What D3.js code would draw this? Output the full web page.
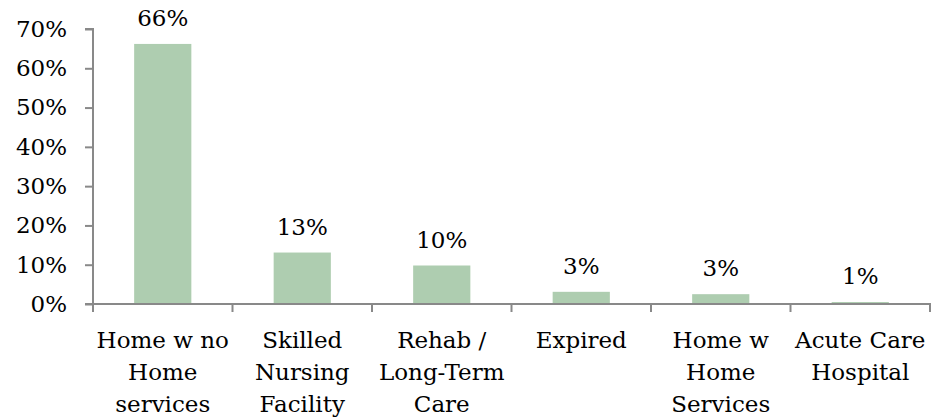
<!DOCTYPE html>
<html>
<head>
<meta charset="utf-8">
<script src="https://cdn.jsdelivr.net/npm/d3@7"></script>
<style>
  body { margin: 0; background: #fff; }
  svg { display: block; font-family: "DejaVu Serif", serif; }
</style>
</head>
<body>
<svg width="935" height="418"></svg>
<script>
// discharge destinations (share of patients)
let categories = ['Home w no Home services', 'Skilled Nursing Facility', 'Rehab / Long-Term Care',
  'Expired', 'Home w Home Services', 'Acute Care Hospital'];
let labelLines = [
  ['Home w no', 'Home', 'services'],
  ['Skilled', 'Nursing', 'Facility'],
  ['Rehab /', 'Long-Term', 'Care'],
  ['Expired'],
  ['Home w', 'Home', 'Services'],
  ['Acute Care', 'Hospital']
];
let values = [0.662, 0.131, 0.098, 0.031, 0.025, 0.005];
let yTicks = [0, 0.1, 0.2, 0.3, 0.4, 0.5, 0.6, 0.7];

let svg = d3.select('svg');
let fontSize = 23;
let axisColor = '#898989';

let x = d3.scaleBand()
  .domain(categories)
  .range([93, 930])
  .paddingInner(0.59)
  .paddingOuter(0.295);

let y = d3.scaleLinear()
  .domain([0, 0.7])
  .range([304, 29]);

// bars
svg.selectAll('rect.bar')
  .data(values)
  .enter()
  .append('rect')
  .attr('class', 'bar')
  .attr('x', (d, i) => x(categories[i]))
  .attr('y', d => y(d))
  .attr('width', x.bandwidth())
  .attr('height', d => y(0) - y(d))
  .attr('fill', '#aecdb0');

// value labels
svg.selectAll('text.val')
  .data(values)
  .enter()
  .append('text')
  .attr('class', 'val')
  .attr('x', (d, i) => x(categories[i]) + x.bandwidth() / 2)
  .attr('y', d => y(d) - 18)
  .attr('text-anchor', 'middle')
  .attr('font-size', fontSize)
  .text(d => Math.round(d * 100) + '%');

// y axis
let yAxis = svg.append('g')
  .attr('transform', 'translate(93,0)')
  .call(d3.axisLeft(y).tickValues(yTicks).tickFormat(d3.format('.0%')).tickSize(8).tickPadding(18));
yAxis.select('.domain').attr('stroke', axisColor).attr('stroke-width', 2)
  .attr('d', `M-8,${y(0.7)}H0V${y(0)}`);
yAxis.selectAll('.tick line').attr('stroke', axisColor).attr('stroke-width', 2);
yAxis.selectAll('.tick text')
  .attr('font-family', '"DejaVu Serif", serif')
  .attr('font-size', fontSize)
  .attr('fill', '#000');

// x axis baseline and boundary ticks
let xAxis = svg.append('g').attr('transform', `translate(0,${y(0)})`);
xAxis.append('line')
  .attr('x1', 93 - 8).attr('x2', 931)
  .attr('stroke', axisColor).attr('stroke-width', 2);
let bounds = d3.range(categories.length + 1).map(i => x.range()[0] + i * x.step());
xAxis.selectAll('line.tk')
  .data(bounds)
  .enter()
  .append('line')
  .attr('class', 'tk')
  .attr('x1', d => d).attr('x2', d => d)
  .attr('y1', 0).attr('y2', 8)
  .attr('stroke', axisColor).attr('stroke-width', 2);

// category labels
let catText = svg.selectAll('text.cat')
  .data(categories)
  .enter()
  .append('text')
  .attr('class', 'cat')
  .attr('text-anchor', 'middle')
  .attr('font-size', fontSize)
  .attr('transform', d => `translate(${x(d) + x.bandwidth() / 2},${y(0) + 44})`);
catText.selectAll('tspan')
  .data((d, i) => labelLines[i])
  .enter()
  .append('tspan')
  .attr('x', 0)
  .attr('y', (d, j) => j * 32)
  .text(d => d);
</script>
</body>
</html>
